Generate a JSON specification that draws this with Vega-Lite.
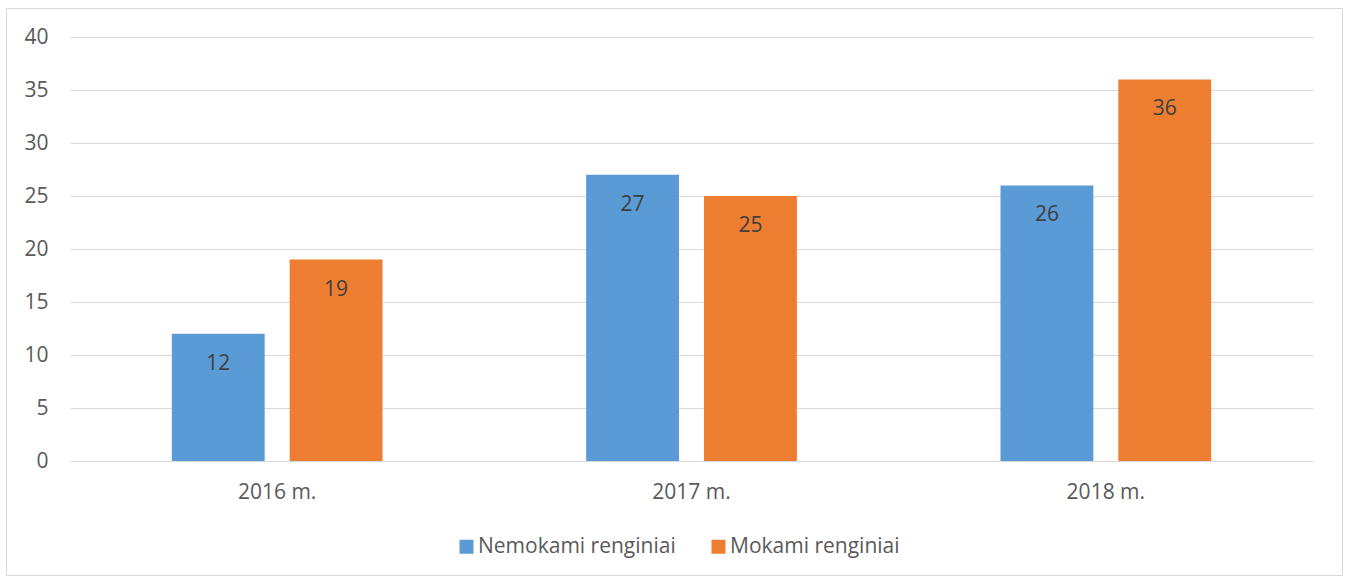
{
  "$schema": "https://vega.github.io/schema/vega-lite/v6.json",
  "width": 1336,
  "height": 567,
  "autosize": {"type": "none"},
  "padding": {"left": 6, "top": 8, "right": 7, "bottom": 3},
  "background": "white",
  "config": {
    "view": {"stroke": "#d9d9d9", "strokeWidth": 1},
    "font": "Open Sans"
  },
  "data": {
    "values": [
      {"year": "2016 m.", "series": "Nemokami renginiai", "value": 12},
      {"year": "2016 m.", "series": "Mokami renginiai", "value": 19},
      {"year": "2017 m.", "series": "Nemokami renginiai", "value": 27},
      {"year": "2017 m.", "series": "Mokami renginiai", "value": 25},
      {"year": "2018 m.", "series": "Nemokami renginiai", "value": 26},
      {"year": "2018 m.", "series": "Mokami renginiai", "value": 36}
    ]
  },
  "encoding": {
    "x": {
      "field": "year", "type": "nominal", "sort": null,
      "scale": {"range": [64, 1307], "paddingInner": 0, "paddingOuter": 0},
      "axis": {
        "title": null, "orient": "bottom", "offset": -114,
        "domain": true, "domainColor": "#d9d9d9", "domainWidth": 1,
        "ticks": false, "grid": false,
        "labelAngle": 0, "labelFont": "Open Sans", "labelFontSize": 21,
        "labelColor": "#595959", "labelPadding": 20
      }
    },
    "xOffset": {
      "field": "series", "type": "nominal",
      "sort": ["Nemokami renginiai", "Mokami renginiai"],
      "scale": {"paddingInner": 0.212, "paddingOuter": 0.864}
    },
    "y": {
      "field": "value", "type": "quantitative",
      "scale": {"domain": [0, 40], "range": [453, 29], "nice": false, "zero": true},
      "axis": {
        "title": null, "offset": -64, "values": [0, 5, 10, 15, 20, 25, 30, 35, 40],
        "domain": false, "ticks": false, "grid": true,
        "gridColor": "#d9d9d9", "gridWidth": 1,
        "labelFont": "Open Sans", "labelFontSize": 21, "labelColor": "#595959",
        "labelPadding": 22
      }
    }
  },
  "layer": [
    {
      "mark": {"type": "bar"},
      "encoding": {
        "color": {
          "field": "series", "type": "nominal",
          "scale": {"domain": ["Nemokami renginiai", "Mokami renginiai"], "range": ["#5B9BD5", "#ED7D31"]},
          "legend": {
            "title": null, "orient": "none", "direction": "horizontal",
            "legendX": 450, "legendY": 528, "padding": 0,
            "symbolType": "square", "symbolSize": 196, "symbolStrokeWidth": 0,
            "symbolOpacity": 1,
            "labelFont": "Open Sans", "labelFontSize": 21, "labelColor": "#595959",
            "labelOffset": 1, "columnPadding": 32, "labelLimit": 400
          }
        }
      }
    },
    {
      "mark": {"type": "text", "baseline": "middle", "align": "center", "dy": 30, "font": "Open Sans", "fontSize": 21, "color": "#404040"},
      "encoding": {
        "text": {"field": "value", "type": "quantitative"}
      }
    }
  ]
}
